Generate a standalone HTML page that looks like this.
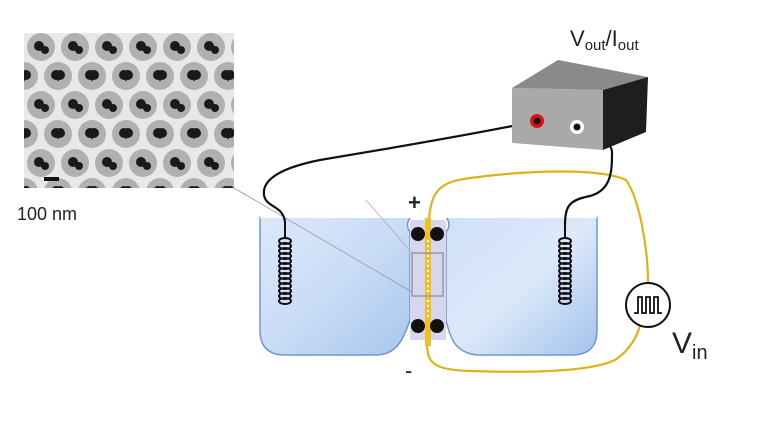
<!DOCTYPE html>
<html><head><meta charset="utf-8"><style>
html,body{margin:0;padding:0;background:#fff;width:768px;height:432px;overflow:hidden}
svg{display:block}
text{font-family:"Liberation Sans",sans-serif;fill:#222}
</style></head><body>
<svg width="768" height="432" viewBox="0 0 768 432" xmlns="http://www.w3.org/2000/svg">
<defs>
<linearGradient id="tank" x1="0" y1="0" x2="1" y2="1">
<stop offset="0" stop-color="#dce8fa"/><stop offset="0.5" stop-color="#c9dcf6"/><stop offset="1" stop-color="#a9c6ee"/>
</linearGradient>
<linearGradient id="tank2" x1="0" y1="0" x2="1" y2="1">
<stop offset="0" stop-color="#cfe0f8"/><stop offset="0.5" stop-color="#dde9fa"/><stop offset="1" stop-color="#a3c2ec"/>
</linearGradient>
<pattern id="cells" x="24" y="33" width="34" height="58" patternUnits="userSpaceOnUse">
<rect width="34" height="58" fill="#e8e8e8"/>
<circle cx="17" cy="14" r="14" fill="#b0b0b0"/>
<circle cx="0" cy="43" r="14" fill="#b0b0b0"/>
<circle cx="34" cy="43" r="14" fill="#b0b0b0"/>
<circle cx="15" cy="13" r="5" fill="#1a1a1a"/><circle cx="21" cy="17" r="4" fill="#1a1a1a"/>
<circle cx="2" cy="42" r="5" fill="#1a1a1a"/><circle cx="-3" cy="46" r="4" fill="#1a1a1a"/>
<circle cx="32" cy="42" r="5" fill="#1a1a1a"/><circle cx="37" cy="46" r="4" fill="#1a1a1a"/>
</pattern>
<g id="coil" fill="none" stroke="#111" stroke-width="2">
<ellipse cx="0" cy="0" rx="6" ry="3"/><ellipse cx="0" cy="5" rx="6" ry="3"/><ellipse cx="0" cy="10" rx="6" ry="3"/><ellipse cx="0" cy="15" rx="6" ry="3"/><ellipse cx="0" cy="20" rx="6" ry="3"/><ellipse cx="0" cy="25" rx="6" ry="3"/><ellipse cx="0" cy="30" rx="6" ry="3"/><ellipse cx="0" cy="35" rx="6" ry="3"/><ellipse cx="0" cy="40" rx="6" ry="3"/><ellipse cx="0" cy="45" rx="6" ry="3"/><ellipse cx="0" cy="50" rx="6" ry="3"/><ellipse cx="0" cy="55" rx="6" ry="3"/><ellipse cx="0" cy="60" rx="6" ry="3"/>
</g>
</defs>

<!-- SEM image -->
<rect x="24" y="33" width="210" height="155" fill="url(#cells)"/>
<rect x="44" y="177" width="15" height="4" fill="#111"/>
<text x="17" y="220" font-size="18">100 nm</text>

<!-- tanks -->
<path d="M260,217 L410,217 L410,218 Q405,225 410,232 L410,320 Q404,338 398,345 Q390,355 375,355 L285,355 Q260,355 260,330 Z" fill="url(#tank)" stroke="#6f98cc" stroke-width="1.5"/>
<path d="M597,217 L446,217 Q452,225 446,232 L446,320 Q450,338 456,345 Q465,355 480,355 L572,355 Q597,355 597,330 Z" fill="url(#tank2)" stroke="#6f98cc" stroke-width="1.5"/>
<rect x="410" y="220" width="36" height="120" fill="#d6d6ee"/>
<line x1="260" y1="217" x2="597" y2="217" stroke="#fff" stroke-width="2"/>

<!-- gray guide lines -->
<line x1="234" y1="188" x2="412" y2="292" stroke="#999" stroke-width="0.8"/>
<line x1="366" y1="200" x2="412" y2="253" stroke="#aaa" stroke-width="0.8"/>

<!-- gold strip -->
<rect x="425" y="218" width="6" height="128" fill="#f1c21f"/>
<line x1="428" y1="240" x2="428" y2="318" stroke="#fff" stroke-width="2" stroke-dasharray="2,3"/>
<rect x="412" y="253" width="31" height="43" fill="none" stroke="#999" stroke-width="1.5"/>

<!-- dots -->
<circle cx="418" cy="234" r="7" fill="#111"/><circle cx="437" cy="234" r="7" fill="#111"/>
<circle cx="418" cy="326" r="7" fill="#111"/><circle cx="437" cy="326" r="7" fill="#111"/>

<!-- coils -->
<use href="#coil" x="285" y="241"/>
<use href="#coil" x="565" y="241"/>
<path d="M285,222 L285,238 M565,225 L565,238" stroke="#111" stroke-width="2"/>

<!-- gold wires -->
<path d="M429,218 C432,190 440,182 470,178 C530,170 600,168 626,180 C640,200 648,250 648,283" fill="none" stroke="#e0b21a" stroke-width="2.2"/>
<path d="M427,345 C428,362 432,370 470,371 C530,373 590,372 615,360 C630,350 638,335 640,325" fill="none" stroke="#e0b21a" stroke-width="2.2"/>

<!-- black wires -->
<path d="M537,121 C470,135 380,150 320,160 C280,168 262,180 264,195 C266,208 283,205 285,222" fill="none" stroke="#111" stroke-width="2.2"/>
<path d="M577,126 C590,135 612,140 612,152 C612,170 612,190 590,196 C570,200 565,205 565,225" fill="none" stroke="#111" stroke-width="2.2"/>

<!-- box instrument -->
<polygon points="512,88 558,60 648,77 603,90" fill="#8a8a8a"/>
<polygon points="603,90 648,77 646,132 603,150" fill="#1e1e1e"/>
<polygon points="512,88 603,90 603,150 512,143" fill="#a9a9a9"/>
<circle cx="537" cy="121" r="7" fill="#e01010"/><circle cx="537" cy="121" r="3.5" fill="#111"/>
<circle cx="577" cy="127" r="7" fill="#fff"/><circle cx="577" cy="127" r="3.5" fill="#111"/>
<text x="570" y="46" font-size="22">V<tspan font-size="15" dy="4">out</tspan><tspan dy="-4">/I</tspan><tspan font-size="15" dy="4">out</tspan></text>

<!-- source -->
<circle cx="648" cy="305" r="22" fill="#fff" stroke="#111" stroke-width="2"/>
<path d="M634,313 L638,313 L638,297 L642,297 L642,313 L646,313 L646,297 L650,297 L650,313 L654,313 L654,297 L658,297 L658,313 L662,313" fill="none" stroke="#111" stroke-width="1.8"/>
<text x="672" y="353" font-size="30">V<tspan font-size="20" dy="6">in</tspan></text>

<text x="408" y="210" font-size="22" font-weight="bold">+</text>
<text x="405" y="378" font-size="22">-</text>
</svg>
</body></html>
